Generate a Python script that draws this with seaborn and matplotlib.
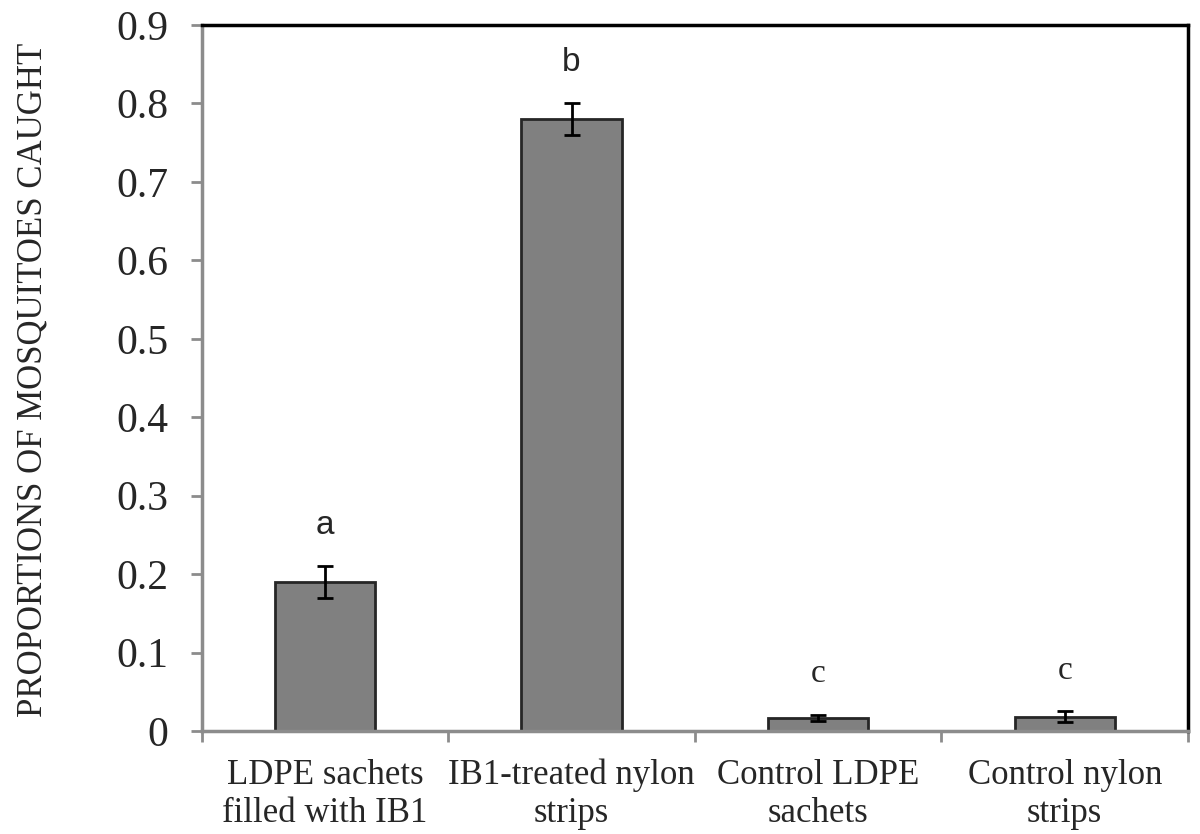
import matplotlib
matplotlib.use("Agg")
import matplotlib.pyplot as plt
import seaborn as sns
import numpy as np
import pandas as pd

# data
categories = ["LDPE sachets\nfilled with IB1", "IB1-treated nylon\nstrips",
              "Control LDPE\nsachets", "Control nylon\nstrips"]
proportions = [0.19, 0.78, 0.017, 0.018]
errors = [0.02, 0.02, 0.004, 0.007]
letters = ["a", "b", "c", "c"]
letter_fonts = ["Liberation Sans", "Liberation Sans", "Liberation Serif", "Liberation Serif"]

df = pd.DataFrame({"Treatment": categories, "Proportion": proportions})

sns.set_style("white")
plt.rcParams['font.family'] = ['Liberation Serif', 'DejaVu Serif']

fig = plt.figure(figsize=(12, 8.34), dpi=100)
ax = fig.add_axes([0.168, 0.1235, 0.822, 0.8465])

sns.barplot(data=df, x="Treatment", y="Proportion", color="#808080",
            width=0.406, edgecolor="#262626", linewidth=2, saturation=1, ax=ax)
ax.errorbar(np.arange(len(categories)), proportions, yerr=errors, fmt="none",
            ecolor="black", elinewidth=2, capsize=6, capthick=2)

for i, (lab, fam) in enumerate(zip(letters, letter_fonts)):
    ax.text(i, proportions[i] + errors[i] + 0.032, lab, ha="center", va="bottom",
            fontsize=24, family=fam)

ax.set_xlim(-0.5, len(categories) - 0.5)
ax.set_ylim(0, 0.9)
ax.set_yticks(np.arange(0, 0.91, 0.1))
ax.set_yticklabels(["0"] + [f"{v:.1f}" for v in np.arange(0.1, 0.91, 0.1)])
ax.set_xticks(range(len(categories)))
ax.set_xticklabels(categories, linespacing=1.2)
ax.set_xticks(np.arange(-0.5, len(categories)), minor=True)
ax.tick_params(axis="x", which="major", length=0, pad=20, labelsize=25)
ax.tick_params(axis="x", which="minor", length=8, width=2, color="#8c8c8c", direction="out", bottom=True)
ax.tick_params(axis="y", length=8, width=2, color="#8c8c8c", direction="out", left=True, labelsize=30, pad=16)

ax.set_xlabel("")
ax.set_ylabel("PROPORTIONS OF MOSQUITOES CAUGHT", fontsize=25)
ax.yaxis.set_label_coords(-0.154, 0.497)

for side in ["left", "bottom"]:
    ax.spines[side].set_color("#8c8c8c")
    ax.spines[side].set_linewidth(2.5)
for side in ["top", "right"]:
    ax.spines[side].set_color("black")
    ax.spines[side].set_linewidth(2.5)
    ax.spines[side].set_visible(True)

fig.savefig("out.png", dpi=100)
plt.close(fig)
